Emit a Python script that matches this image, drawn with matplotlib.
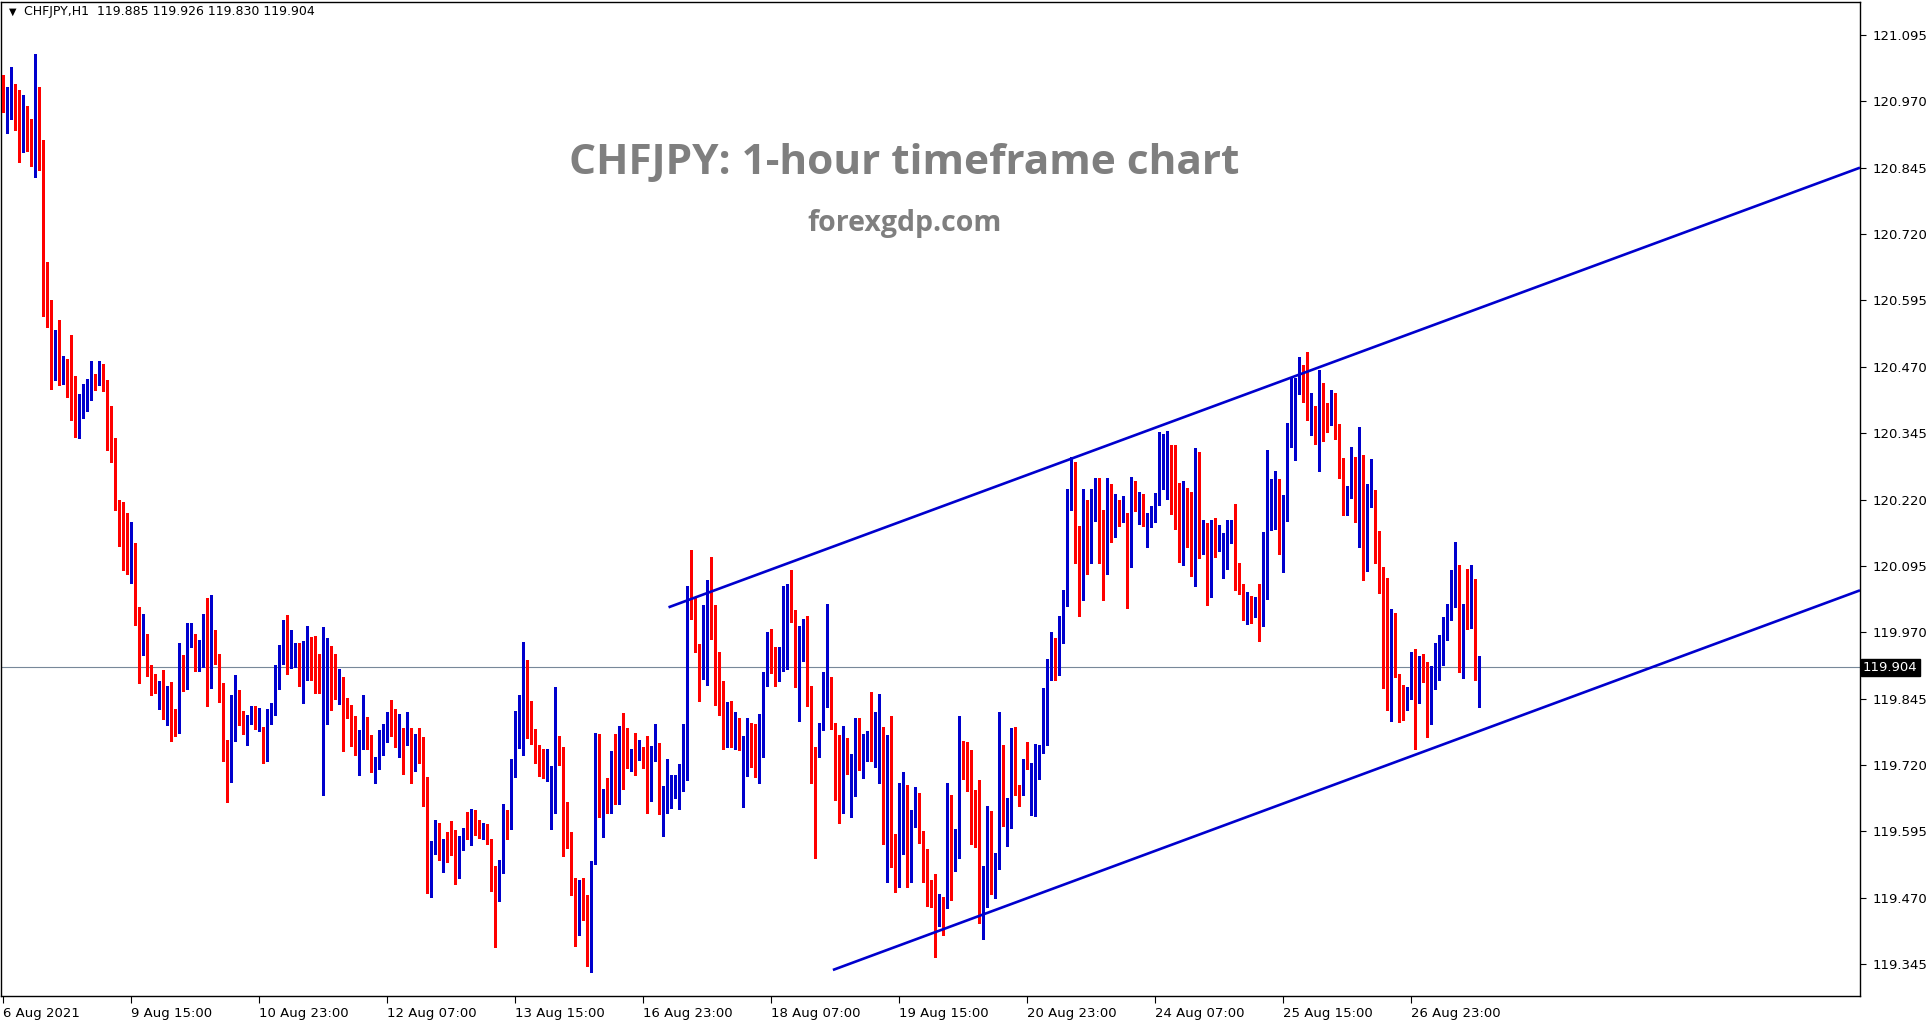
"""CHFJPY H1 candlestick chart with a rising channel (MT4 style)."""

import numpy as np
import pandas as pd
import matplotlib
matplotlib.use("Agg")
import matplotlib.pyplot as plt
from matplotlib import transforms

SYMBOL_INFO = "CHFJPY,H1  119.885 119.926 119.830 119.904"
TITLE = "CHFJPY: 1-hour timeframe chart"
SUBTITLE = "forexgdp.com"
START = "2021-08-06 07:00"

# hourly OHLC (bar 0 = 6 Aug 07:00)
OPEN = [
    121.018, 120.961, 120.974, 120.992, 120.945, 120.908, 120.915, 120.903, 120.865, 120.935,
    120.869, 120.629, 120.575, 120.450, 120.533, 120.442, 120.463, 120.478, 120.407, 120.381,
    120.406, 120.406, 120.421, 120.450, 120.442, 120.463, 120.430, 120.354, 120.297, 120.203,
    120.200, 120.132, 120.094, 120.118, 120.004, 119.940, 119.965, 119.895, 119.878, 119.864,
    119.866, 119.845, 119.835, 119.804, 119.793, 119.897, 119.875, 119.950, 119.963, 119.905,
    119.943, 119.959, 119.886, 119.964, 119.930, 119.854, 119.768, 119.688, 119.823, 119.843,
    119.810, 119.784, 119.804, 119.820, 119.801, 119.791, 119.728, 119.805, 119.822, 119.879,
    119.929, 119.989, 119.914, 119.936, 119.950, 119.884, 119.922, 119.948, 119.944, 119.911,
    119.890, 119.896, 119.899, 119.887, 119.867, 119.886, 119.846, 119.816, 119.791, 119.737,
    119.788, 119.795, 119.759, 119.717, 119.722, 119.773, 119.778, 119.808, 119.796, 119.763,
    119.784, 119.759, 119.782, 119.756, 119.767, 119.757, 119.698, 119.498, 119.566, 119.576,
    119.555, 119.561, 119.556, 119.501, 119.507, 119.574, 119.599, 119.594, 119.631, 119.606,
    119.592, 119.609, 119.579, 119.493, 119.479, 119.528, 119.630, 119.611, 119.703, 119.783,
    119.796, 119.915, 119.798, 119.771, 119.756, 119.734, 119.703, 119.600, 119.700, 119.775,
    119.751, 119.620, 119.593, 119.507, 119.400, 119.493, 119.446, 119.363, 119.534, 119.749,
    119.627, 119.672, 119.631, 119.687, 119.675, 119.789, 119.756, 119.720, 119.733, 119.733,
    119.743, 119.748, 119.652, 119.746, 119.761, 119.646, 119.650, 119.657, 119.660, 119.692,
    119.720, 119.764, 120.046, 120.027, 119.948, 119.930, 120.006, 120.068, 120.006, 119.864,
    119.847, 119.761, 119.807, 119.766, 119.805, 119.722, 119.700, 119.755, 119.717, 119.714,
    119.782, 119.887, 119.940, 119.898, 119.894, 119.897, 120.002, 120.038, 119.995, 119.868,
    119.942, 119.989, 119.869, 119.744, 119.741, 119.795, 119.849, 119.883, 119.799, 119.658,
    119.641, 119.763, 119.705, 119.710, 119.766, 119.751, 119.765, 119.783, 119.776, 119.787,
    119.788, 119.637, 119.746, 119.528, 119.518, 119.608, 119.656, 119.520, 119.632, 119.667,
    119.578, 119.519, 119.466, 119.515, 119.429, 119.454, 119.451, 119.653, 119.521, 119.549,
    119.747, 119.742, 119.736, 119.673, 119.610, 119.492, 119.511, 119.584, 119.492, 119.535,
    119.733, 119.604, 119.613, 119.785, 119.683, 119.665, 119.748, 119.662, 119.675, 119.693,
    119.748, 119.775, 119.900, 119.940, 119.910, 119.970, 120.030, 120.220, 120.270, 120.140,
    120.050, 120.200, 120.120, 120.210, 120.240, 120.170, 120.100, 120.220, 120.180, 120.207,
    120.195, 120.195, 120.142, 120.248, 120.212, 120.219, 120.172, 120.190, 120.196, 120.215,
    120.259, 120.285, 120.286, 120.240, 120.181, 120.121, 120.209, 120.181, 120.127, 120.290,
    120.133, 120.173, 120.037, 120.177, 120.127, 120.099, 120.104, 120.149, 120.158, 120.076,
    120.049, 120.010, 120.025, 120.006, 120.021, 120.008, 120.065, 120.200, 120.208, 120.209,
    120.162, 120.204, 120.337, 120.356, 120.426, 120.445, 120.427, 120.375, 120.388, 120.328,
    120.440, 120.373, 120.364, 120.388, 120.362, 120.289, 120.206, 120.246, 120.287, 120.180,
    120.289, 120.112, 120.215, 120.238, 120.110, 120.044, 119.935, 119.848, 120.002, 119.889,
    119.867, 119.842, 119.845, 119.899, 119.858, 119.899, 119.880, 119.862, 119.864, 119.925,
    119.936, 119.965, 119.994, 120.040, 120.086, 119.894, 120.024, 120.014, 120.030, 119.885,
]
HIGH = [
    121.020, 120.997, 121.035, 121.002, 120.992, 120.981, 120.962, 120.936, 121.059, 120.997,
    120.898, 120.668, 120.596, 120.539, 120.559, 120.490, 120.485, 120.530, 120.452, 120.419,
    120.438, 120.447, 120.480, 120.457, 120.480, 120.475, 120.445, 120.397, 120.336, 120.220,
    120.215, 120.195, 120.177, 120.139, 120.018, 120.004, 119.966, 119.908, 119.892, 119.878,
    119.899, 119.869, 119.876, 119.826, 119.949, 119.928, 119.987, 119.987, 119.967, 119.955,
    120.004, 120.034, 120.041, 119.974, 119.930, 119.874, 119.768, 119.851, 119.889, 119.861,
    119.822, 119.815, 119.832, 119.832, 119.828, 119.791, 119.825, 119.837, 119.909, 119.946,
    119.993, 120.003, 119.974, 119.950, 119.950, 119.954, 119.982, 119.961, 119.963, 119.930,
    119.980, 119.959, 119.944, 119.930, 119.901, 119.886, 119.846, 119.833, 119.813, 119.786,
    119.851, 119.811, 119.776, 119.735, 119.786, 119.797, 119.820, 119.843, 119.825, 119.817,
    119.789, 119.820, 119.789, 119.779, 119.789, 119.773, 119.698, 119.577, 119.617, 119.611,
    119.580, 119.594, 119.614, 119.597, 119.587, 119.601, 119.631, 119.638, 119.635, 119.617,
    119.611, 119.609, 119.581, 119.530, 119.541, 119.646, 119.635, 119.731, 119.822, 119.852,
    119.951, 119.918, 119.841, 119.788, 119.757, 119.751, 119.751, 119.718, 119.867, 119.775,
    119.754, 119.651, 119.593, 119.507, 119.503, 119.507, 119.476, 119.539, 119.781, 119.778,
    119.675, 119.695, 119.746, 119.778, 119.794, 119.818, 119.789, 119.751, 119.780, 119.768,
    119.754, 119.775, 119.755, 119.797, 119.761, 119.680, 119.731, 119.701, 119.701, 119.721,
    119.797, 120.058, 120.125, 120.035, 119.948, 120.021, 120.069, 120.112, 120.022, 119.932,
    119.879, 119.838, 119.840, 119.820, 119.808, 119.774, 119.808, 119.799, 119.798, 119.817,
    119.895, 119.970, 119.977, 119.943, 119.943, 120.058, 120.061, 120.087, 120.012, 119.981,
    119.995, 120.001, 119.869, 119.754, 119.799, 119.896, 120.024, 119.886, 119.799, 119.776,
    119.793, 119.770, 119.741, 119.808, 119.808, 119.779, 119.785, 119.857, 119.820, 119.853,
    119.791, 119.776, 119.812, 119.591, 119.687, 119.706, 119.682, 119.635, 119.679, 119.667,
    119.596, 119.561, 119.503, 119.515, 119.478, 119.471, 119.687, 119.663, 119.600, 119.812,
    119.765, 119.763, 119.748, 119.673, 119.692, 119.529, 119.643, 119.633, 119.554, 119.820,
    119.757, 119.657, 119.790, 119.791, 119.683, 119.731, 119.763, 119.723, 119.759, 119.757,
    119.865, 119.920, 119.970, 119.960, 120.000, 120.050, 120.240, 120.300, 120.290, 120.170,
    120.240, 120.220, 120.240, 120.260, 120.260, 120.200, 120.260, 120.250, 120.230, 120.220,
    120.227, 120.195, 120.262, 120.255, 120.234, 120.231, 120.195, 120.208, 120.232, 120.347,
    120.344, 120.349, 120.322, 120.322, 120.251, 120.255, 120.242, 120.234, 120.317, 120.310,
    120.182, 120.176, 120.181, 120.185, 120.172, 120.157, 120.182, 120.181, 120.211, 120.100,
    120.060, 120.045, 120.038, 120.037, 120.060, 120.158, 120.313, 120.258, 120.273, 120.258,
    120.229, 120.364, 120.450, 120.449, 120.489, 120.473, 120.498, 120.420, 120.397, 120.464,
    120.440, 120.401, 120.427, 120.420, 120.362, 120.298, 120.245, 120.318, 120.300, 120.356,
    120.303, 120.249, 120.297, 120.238, 120.160, 120.092, 120.073, 120.013, 120.007, 119.892,
    119.871, 119.867, 119.933, 119.939, 119.926, 119.930, 119.914, 119.906, 119.950, 119.965,
    119.998, 120.024, 120.088, 120.140, 120.096, 120.024, 120.089, 120.096, 120.071, 119.926,
]
LOW = [
    120.950, 120.910, 120.936, 120.916, 120.855, 120.874, 120.876, 120.848, 120.827, 120.840,
    120.566, 120.545, 120.428, 120.445, 120.435, 120.438, 120.414, 120.369, 120.338, 120.335,
    120.373, 120.386, 120.407, 120.426, 120.435, 120.425, 120.314, 120.290, 120.200, 120.132,
    120.087, 120.080, 120.063, 119.984, 119.875, 119.928, 119.887, 119.852, 119.856, 119.826,
    119.806, 119.795, 119.766, 119.774, 119.781, 119.859, 119.864, 119.942, 119.897, 119.897,
    119.905, 119.831, 119.865, 119.910, 119.838, 119.727, 119.650, 119.688, 119.766, 119.795,
    119.778, 119.758, 119.797, 119.788, 119.785, 119.724, 119.728, 119.797, 119.815, 119.864,
    119.910, 119.891, 119.903, 119.904, 119.869, 119.837, 119.881, 119.880, 119.856, 119.855,
    119.664, 119.797, 119.823, 119.845, 119.835, 119.747, 119.808, 119.756, 119.738, 119.702,
    119.751, 119.751, 119.707, 119.687, 119.713, 119.739, 119.764, 119.774, 119.754, 119.735,
    119.703, 119.757, 119.687, 119.708, 119.724, 119.643, 119.479, 119.472, 119.552, 119.542,
    119.518, 119.537, 119.551, 119.496, 119.507, 119.560, 119.581, 119.570, 119.589, 119.582,
    119.581, 119.572, 119.483, 119.378, 119.463, 119.516, 119.580, 119.600, 119.697, 119.752,
    119.739, 119.771, 119.759, 119.724, 119.699, 119.695, 119.690, 119.600, 119.630, 119.720,
    119.548, 119.563, 119.476, 119.379, 119.400, 119.429, 119.341, 119.330, 119.534, 119.622,
    119.584, 119.630, 119.630, 119.647, 119.647, 119.675, 119.714, 119.709, 119.702, 119.729,
    119.714, 119.630, 119.652, 119.728, 119.627, 119.587, 119.630, 119.640, 119.658, 119.637,
    119.672, 119.691, 119.995, 119.932, 119.840, 119.882, 119.871, 119.957, 119.833, 119.814,
    119.750, 119.754, 119.753, 119.751, 119.748, 119.641, 119.700, 119.716, 119.697, 119.686,
    119.735, 119.869, 119.894, 119.868, 119.878, 119.897, 119.901, 119.989, 119.867, 119.803,
    119.915, 119.832, 119.686, 119.545, 119.736, 119.786, 119.830, 119.788, 119.655, 119.611,
    119.630, 119.704, 119.622, 119.662, 119.711, 119.696, 119.728, 119.728, 119.716, 119.686,
    119.571, 119.500, 119.528, 119.480, 119.490, 119.553, 119.490, 119.500, 119.604, 119.574,
    119.500, 119.455, 119.453, 119.358, 119.417, 119.400, 119.451, 119.465, 119.521, 119.544,
    119.694, 119.672, 119.571, 119.565, 119.423, 119.393, 119.453, 119.478, 119.470, 119.525,
    119.605, 119.567, 119.601, 119.664, 119.643, 119.663, 119.712, 119.626, 119.624, 119.693,
    119.743, 119.758, 119.880, 119.880, 119.890, 119.950, 120.020, 120.200, 120.100, 120.000,
    120.030, 120.080, 120.100, 120.180, 120.100, 120.030, 120.080, 120.140, 120.150, 120.170,
    120.177, 120.016, 120.092, 120.199, 120.173, 120.170, 120.130, 120.169, 120.177, 120.209,
    120.240, 120.221, 120.193, 120.165, 120.102, 120.096, 120.130, 120.076, 120.057, 120.110,
    120.118, 120.022, 120.037, 120.112, 120.123, 120.073, 120.090, 120.138, 120.049, 120.043,
    119.993, 119.986, 119.987, 119.998, 119.954, 119.981, 120.033, 120.162, 120.165, 120.118,
    120.083, 120.180, 120.318, 120.294, 120.418, 120.403, 120.369, 120.341, 120.324, 120.274,
    120.330, 120.348, 120.361, 120.334, 120.261, 120.191, 120.191, 120.222, 120.177, 120.130,
    120.069, 120.086, 120.205, 120.101, 120.044, 119.865, 119.823, 119.803, 119.885, 119.801,
    119.804, 119.823, 119.845, 119.751, 119.836, 119.877, 119.773, 119.798, 119.864, 119.880,
    119.909, 119.956, 119.994, 120.018, 119.896, 119.884, 119.977, 119.978, 119.880, 119.830,
]
CLOSE = [
    120.951, 120.979, 120.992, 120.945, 120.908, 120.922, 120.902, 120.862, 120.935, 120.864,
    120.629, 120.573, 120.450, 120.533, 120.438, 120.463, 120.444, 120.425, 120.383, 120.405,
    120.409, 120.421, 120.452, 120.442, 120.468, 120.425, 120.354, 120.293, 120.201, 120.198,
    120.131, 120.098, 120.120, 120.006, 119.944, 119.961, 119.894, 119.875, 119.864, 119.866,
    119.806, 119.864, 119.804, 119.795, 119.897, 119.875, 119.953, 119.964, 119.905, 119.941,
    119.960, 119.886, 119.967, 119.928, 119.852, 119.763, 119.688, 119.823, 119.850, 119.808,
    119.784, 119.805, 119.817, 119.802, 119.805, 119.724, 119.805, 119.823, 119.882, 119.929,
    119.992, 119.912, 119.939, 119.950, 119.884, 119.923, 119.948, 119.940, 119.910, 119.887,
    119.899, 119.898, 119.887, 119.867, 119.884, 119.842, 119.812, 119.790, 119.738, 119.786,
    119.797, 119.759, 119.717, 119.725, 119.774, 119.778, 119.798, 119.796, 119.763, 119.786,
    119.759, 119.782, 119.756, 119.764, 119.759, 119.690, 119.496, 119.565, 119.576, 119.552,
    119.558, 119.555, 119.552, 119.497, 119.575, 119.594, 119.594, 119.633, 119.605, 119.592,
    119.609, 119.577, 119.492, 119.478, 119.530, 119.630, 119.613, 119.707, 119.786, 119.797,
    119.915, 119.796, 119.769, 119.756, 119.729, 119.705, 119.737, 119.698, 119.774, 119.750,
    119.620, 119.592, 119.507, 119.400, 119.492, 119.446, 119.363, 119.537, 119.748, 119.630,
    119.670, 119.633, 119.687, 119.676, 119.787, 119.755, 119.717, 119.733, 119.730, 119.741,
    119.716, 119.682, 119.755, 119.763, 119.647, 119.650, 119.660, 119.661, 119.694, 119.717,
    119.765, 120.045, 120.026, 119.946, 119.927, 120.007, 120.068, 120.006, 119.863, 119.848,
    119.763, 119.812, 119.766, 119.808, 119.748, 119.729, 119.751, 119.716, 119.716, 119.787,
    119.892, 119.940, 119.901, 119.894, 119.898, 120.002, 120.038, 119.995, 119.868, 119.945,
    119.989, 119.869, 119.744, 119.741, 119.794, 119.861, 119.887, 119.799, 119.658, 119.636,
    119.754, 119.705, 119.710, 119.768, 119.754, 119.766, 119.784, 119.778, 119.788, 119.788,
    119.637, 119.746, 119.528, 119.518, 119.609, 119.656, 119.520, 119.635, 119.667, 119.574,
    119.518, 119.466, 119.457, 119.358, 119.454, 119.449, 119.654, 119.521, 119.551, 119.744,
    119.741, 119.736, 119.673, 119.609, 119.492, 119.512, 119.584, 119.491, 119.537, 119.732,
    119.605, 119.613, 119.785, 119.682, 119.665, 119.731, 119.726, 119.686, 119.695, 119.751,
    119.776, 119.900, 119.940, 119.910, 119.970, 120.030, 120.220, 120.270, 120.140, 120.050,
    120.200, 120.120, 120.210, 120.240, 120.170, 120.100, 120.220, 120.180, 120.210, 120.197,
    120.209, 120.138, 120.247, 120.209, 120.219, 120.173, 120.195, 120.199, 120.212, 120.260,
    120.286, 120.286, 120.240, 120.180, 120.123, 120.208, 120.180, 120.127, 120.290, 120.131,
    120.173, 120.039, 120.177, 120.123, 120.129, 120.106, 120.149, 120.158, 120.071, 120.048,
    120.010, 120.022, 120.006, 120.021, 120.008, 120.065, 120.201, 120.208, 120.212, 120.162,
    120.207, 120.337, 120.359, 120.426, 120.445, 120.426, 120.375, 120.388, 120.324, 120.430,
    120.369, 120.364, 120.388, 120.334, 120.289, 120.206, 120.245, 120.287, 120.177, 120.289,
    120.110, 120.215, 120.239, 120.108, 120.044, 119.935, 119.848, 120.002, 119.887, 119.867,
    119.837, 119.847, 119.933, 119.858, 119.892, 119.877, 119.864, 119.866, 119.933, 119.940,
    119.966, 119.995, 120.037, 120.087, 119.896, 120.024, 120.018, 120.032, 119.886, 119.904,
]

X_TICK_LABELS = ["6 Aug 2021", "9 Aug 15:00", "10 Aug 23:00", "12 Aug 07:00",
                 "13 Aug 15:00", "16 Aug 23:00", "18 Aug 07:00", "19 Aug 15:00",
                 "20 Aug 23:00", "24 Aug 07:00", "25 Aug 15:00", "26 Aug 23:00"]
Y_TICKS = [119.345, 119.470, 119.595, 119.720, 119.845, 119.970,
           120.095, 120.220, 120.345, 120.470, 120.595, 120.720, 120.845, 120.970, 121.095]
LAST_PRICE = 119.904

# trend channel anchors: (bar index, price)
UPPER_LINE = ([166.3, 464.2], [120.017, 120.845])
LOWER_LINE = ([207.4, 464.2], [119.334, 120.049])

BULL = "#0000CD"
BEAR = "#FF0000"
TEXT_GREY = "#7F7F7F"

W, H = 1930, 1023


def bar_times(n):
    """Hourly bars skipping weekends."""
    hours = pd.date_range(START, periods=n * 2, freq="h")
    return hours[hours.dayofweek < 5][:n]


o = np.array(OPEN)
h = np.array(HIGH)
l = np.array(LOW)
c = np.array(CLOSE)
x = np.arange(len(o))
times = bar_times(len(o))
labels_all = [f"{t.day} {t.strftime('%b %H:%M')}" for t in times]
tick_pos = [0] + [labels_all.index(lbl) for lbl in X_TICK_LABELS[1:]]

fig = plt.figure(figsize=(W / 100, H / 100), dpi=100)
ax = fig.add_axes([1 / W, 27 / H, 1859 / W, 994 / H])

up = c >= o
colors = np.where(up, BULL, BEAR)
ax.vlines(x, l, h, colors=colors, linewidth=0.8, antialiased=False, zorder=3)
body = np.maximum(np.abs(c - o), 0.0018)
ax.bar(x, body, bottom=np.minimum(o, c), width=0.8, color=colors,
       linewidth=0, antialiased=False, zorder=4)

ax.axhline(LAST_PRICE, color="#778899", linewidth=0.8, zorder=2)
ax.plot(*UPPER_LINE, color=BULL, linewidth=1.9, zorder=5, solid_capstyle="butt")
ax.plot(*LOWER_LINE, color=BULL, linewidth=1.9, zorder=5, solid_capstyle="butt")

ax.set_xlim(-0.6, 464.2)
ax.set_ylim(119.285, 121.157)

ax.yaxis.tick_right()
ax.set_yticks(Y_TICKS)
ax.set_yticklabels([f"{v:.3f}" for v in Y_TICKS])
ax.tick_params(axis="y", direction="out", length=4, width=0.8, pad=5,
               labelsize=9.5, colors="black")
ax.set_xticks(tick_pos)
ax.set_xticklabels(X_TICK_LABELS, ha="left")
ax.tick_params(axis="x", direction="out", length=5, width=0.8, pad=3,
               labelsize=9.5, colors="black")
for sp in ax.spines.values():
    sp.set_linewidth(1.0)
    sp.set_color("black")

# last price tag on the price scale
trans = transforms.blended_transform_factory(ax.transAxes, ax.transData)
ax.text(1.0016, LAST_PRICE, f"{LAST_PRICE:.3f}", transform=trans, ha="left", va="center",
        fontsize=9.5, color="white", zorder=10, clip_on=False,
        bbox=dict(boxstyle="square,pad=0.15", facecolor="black", edgecolor="black"))

fig.text(9 / W, 1 - 12 / H, "\u25bc", fontsize=7, va="center", ha="left")
fig.text(24 / W, 1 - 12 / H, SYMBOL_INFO, fontsize=9, va="center", ha="left")

fig.text(904 / W, 1 - 164 / H, TITLE, fontsize=30.5, fontweight="bold", family="Open Sans",
         color=TEXT_GREY, ha="center", va="center")
fig.text(905 / W, 1 - 224 / H, SUBTITLE, fontsize=20.5, fontweight="bold", family="Open Sans",
         color=TEXT_GREY, ha="center", va="center")

fig.savefig("out.png", dpi=100)
plt.close(fig)
